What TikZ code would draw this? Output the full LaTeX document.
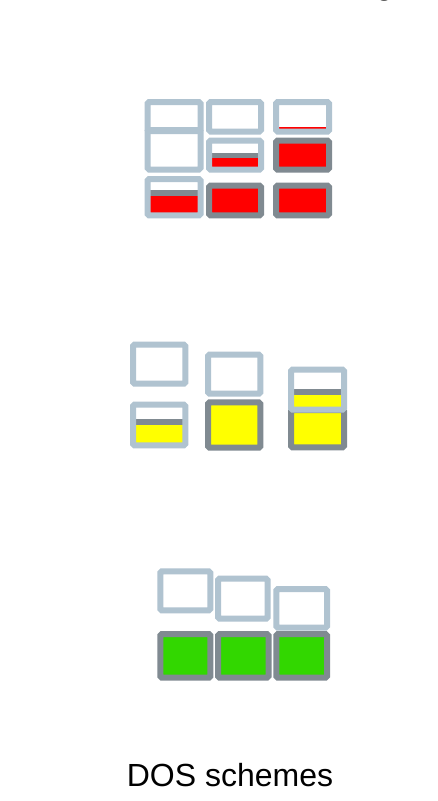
\documentclass[tikz,border=0pt]{standalone}
\usepackage{fontspec}
\setmainfont{Liberation Sans}
\definecolor{lightb}{RGB}{176,195,208}
\definecolor{darkb}{RGB}{128,138,145}
\definecolor{redf}{RGB}{255,0,0}
\definecolor{yelf}{RGB}{255,255,0}
\definecolor{grnf}{RGB}{50,215,0}
\tikzset{
  lightbox/.style={draw=lightb, line width=6pt, rounded corners=1.5pt},
  darkbox/.style={draw=darkb, line width=6pt, rounded corners=1.5pt},
  label/.style={font=\fontsize{32}{38}\selectfont, inner sep=0pt}
}
% empty box by outer edges: style, x1, y1, x2, y2
\newcommand\emptybox[5]{\draw[#1] (#2+3,#3+3) rectangle (#4-3,#5-3);}
% full box: style, x1, y1, x2, y2, colour
\newcommand\fullbox[6]{\fill[#6] (#2+5,#3+5) rectangle (#4-5,#5-5);
  \draw[#1] (#2+3,#3+3) rectangle (#4-3,#5-3);}
% part-filled box: style, x1, y1, x2, y2, colour, top of grey band
\newcommand\partbox[7]{\fill[darkb] (#2+5,#7) rectangle (#4-5,#7+5.5);
  \fill[#6] (#2+5,#7+5.5) rectangle (#4-5,#5-5);
  \draw[#1] (#2+3,#3+3) rectangle (#4-3,#5-3);}
\begin{document}
\begin{tikzpicture}[x=1pt,y=-1pt]
\useasboundingbox (0,0) rectangle (437,801);
\clip (0,0) rectangle (437,801);
\fill[white] (0,0) rectangle (437,801);
% cut-off title fragment
\node[label, anchor=base] (title) at (384.5,-5.5) {g};
% ---------- red group ----------
\emptybox{lightbox}{144.5}{99}{203.5}{134}
\emptybox{lightbox}{144.5}{127}{203.5}{172.5}
\emptybox{lightbox}{206}{99}{264}{134.5}
\fill[redf] (278.5,126.8) rectangle (327,129.5);
\emptybox{lightbox}{273}{99}{332}{134.5}
\partbox{lightbox}{206}{137.7}{264}{172.7}{redf}{152.5}
\fullbox{darkbox}{273}{137.7}{332}{172.7}{redf}
\partbox{lightbox}{144.5}{176}{203.5}{218.3}{redf}{190}
\fullbox{darkbox}{206}{182.7}{264}{218.3}{redf}
\fullbox{darkbox}{273}{182.7}{332}{218.3}{redf}
% ---------- yellow group ----------
\emptybox{lightbox}{130}{341.7}{188.3}{386.7}
\partbox{lightbox}{130}{401.7}{188.3}{448.3}{yelf}{419.3}
\emptybox{lightbox}{205}{351.7}{263.3}{396.7}
\fullbox{darkbox}{205}{399.3}{263.3}{450.7}{yelf}
\fullbox{darkbox}{288}{407}{347}{450.3}{yelf}
\fill[white] (293,371.7) rectangle (342,389.3);
\partbox{lightbox}{288}{366.7}{347}{412.7}{yelf}{389.3}
% ---------- green group ----------
\emptybox{lightbox}{157.3}{568.3}{213.3}{613.3}
\emptybox{lightbox}{215}{575.7}{270.7}{621.7}
\emptybox{lightbox}{273.3}{586}{330}{630.7}
\fullbox{darkbox}{157.3}{631}{213.3}{680.7}{grnf}
\fullbox{darkbox}{215}{631}{271.5}{680.7}{grnf}
\fullbox{darkbox}{273.3}{631}{330}{680.7}{grnf}
% ---------- caption ----------
\node[label, anchor=base] (caption) at (230,786.7) {DOS schemes};
\end{tikzpicture}
\end{document}
